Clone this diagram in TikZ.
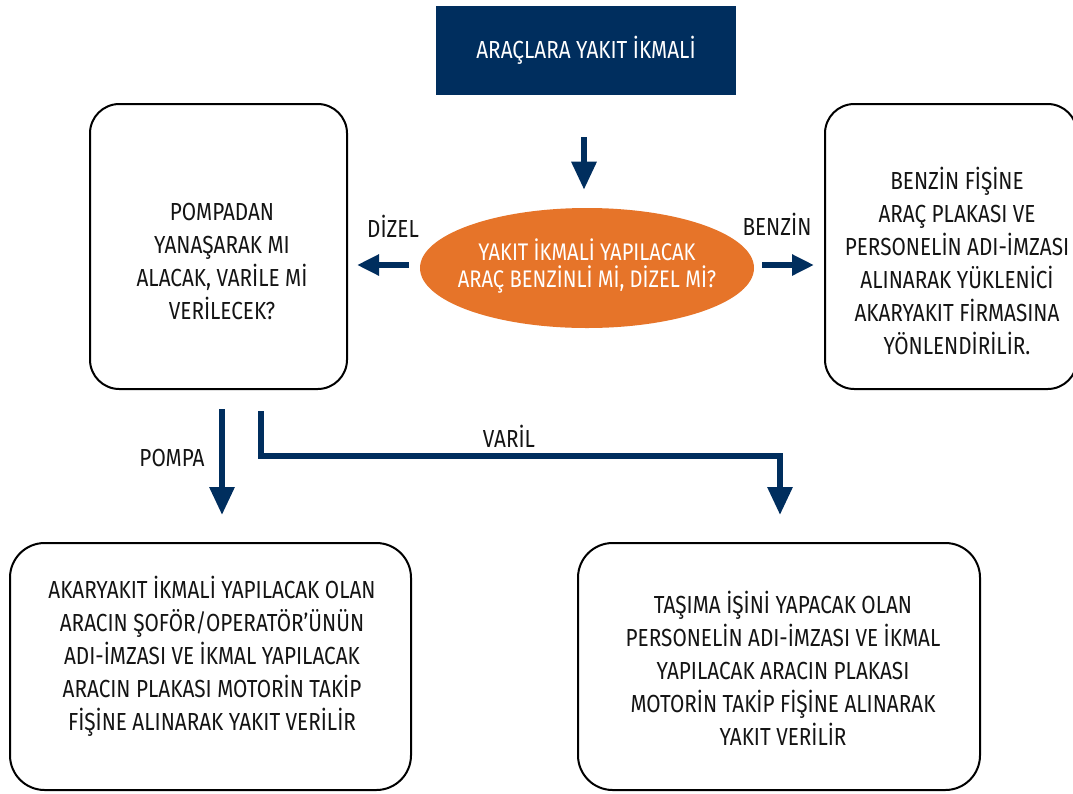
\documentclass[tikz,border=0pt]{standalone}
\usepackage{fontspec}
\setmainfont{Fira Sans}[FakeStretch=0.84]
\usetikzlibrary{arrows.meta,calc,shapes.geometric}
\definecolor{navy}{RGB}{0,46,94}
\definecolor{orng}{RGB}{230,116,41}
\definecolor{ink}{RGB}{20,20,20}
\begin{document}
\begin{tikzpicture}[x=0.75pt,y=-0.75pt,
  box/.style={draw=black,line width=1.5pt,rounded corners=22pt,inner sep=0pt},
  txt/.style={align=center,font=\fontsize{18.5}{24.75}\selectfont,text=ink,inner sep=0pt},
  lbl/.style={font=\fontsize{18.5}{21}\selectfont,text=ink,inner sep=0pt},
  varr/.style={draw=navy,line width=4.5pt,-{Triangle[width=18pt,length=21pt]}},
  harr/.style={draw=navy,line width=4.5pt,-{Triangle[width=15pt,length=16.5pt]}},
]
\clip (0,0) rectangle (1073,793);
\fill[white] (0,0) rectangle (1073,793);

% top box
\node[fill=navy,minimum width=225pt,minimum height=66.75pt,inner sep=0pt,
      text=white,font=\fontsize{18.5}{21}\selectfont] (top) at (586,50.5) {ARAÇLARA YAKIT İKMALİ};

% decision ellipse
\node[ellipse,fill=orng,minimum width=250.5pt,minimum height=90pt,inner sep=0pt] (ell) at (587,268) {};
\node[align=center,text=white,font=\fontsize{18}{20.5}\selectfont,inner sep=0pt] (elltxt) at (587,266)
  {YAKIT İKMALİ YAPILACAK\\ARAÇ BENZİNLİ Mİ, DİZEL Mİ?};

% left box
\node[box,minimum width=192.75pt,minimum height=213.75pt] (lbox) at (218.5,246.5) {};
\node[txt] (ltxt) at (222,261) {POMPADAN\\YANAŞARAK MI\\ALACAK, VARİLE Mİ\\VERİLECEK?};

% right box (its right side runs off the picture)
\node[box,minimum width=189pt,minimum height=213.75pt] (rbox) at (951,246.5) {};
\node[txt] (rtxt) at (957,261) {BENZİN FİŞİNE\\ARAÇ PLAKASI VE\\PERSONELİN ADI-İMZASI\\ALINARAK YÜKLENİCİ\\AKARYAKIT FİRMASINA\\YÖNLENDİRİLİR.};

% bottom boxes
\node[box,rounded corners=26pt,minimum width=300.75pt,minimum height=185.25pt] (blbox) at (210.5,666.5) {};
\node[txt] (bltxt) at (212,656) {AKARYAKIT İKMALİ YAPILACAK OLAN\\ARACIN ŞOFÖR/OPERATÖR’ÜNÜN\\ADI-İMZASI VE İKMAL YAPILACAK\\ARACIN PLAKASI MOTORİN TAKİP\\FİŞİNE ALINARAK YAKIT VERİLİR};

\node[box,rounded corners=26pt,minimum width=301.5pt,minimum height=185.25pt] (brbox) at (779,666.5) {};
\node[txt] (brtxt) at (783,668) {TAŞIMA İŞİNİ YAPACAK OLAN\\PERSONELİN ADI-İMZASI VE İKMAL\\YAPILACAK ARACIN PLAKASI\\MOTORİN TAKİP FİŞİNE ALINARAK\\YAKIT VERİLİR};

% labels
\node[lbl] (dizel) at (393,226) {DİZEL};
\node[lbl] (benzin) at (777,224) {BENZİN};
\node[lbl] (pompa) at (172,458) {POMPA};
\node[lbl] (varil) at (509,436) {VARİL};

% connectors
\draw[varr] ($(top.south)+(-2,42)$) -- ($(ell.north)+(-3,-18)$);
\draw[harr] ($(ell.west)+(-11,-3)$) -- ($(lbox.east)+(9,18.5)$);
\draw[harr] ($(ell.east)+(8,-3)$) -- ($(rbox.west)+(-10,18.5)$);
\draw[varr] ($(lbox.south)+(3.5,19)$) -- ($(blbox.north)+(11.5,-27)$);
\draw[varr,line join=miter] ($(lbox.south)+(42.5,21)$) |- ($(brbox.north)+(1,-86)$) -- ($(brbox.north)+(1,-27)$);
\end{tikzpicture}
\end{document}
